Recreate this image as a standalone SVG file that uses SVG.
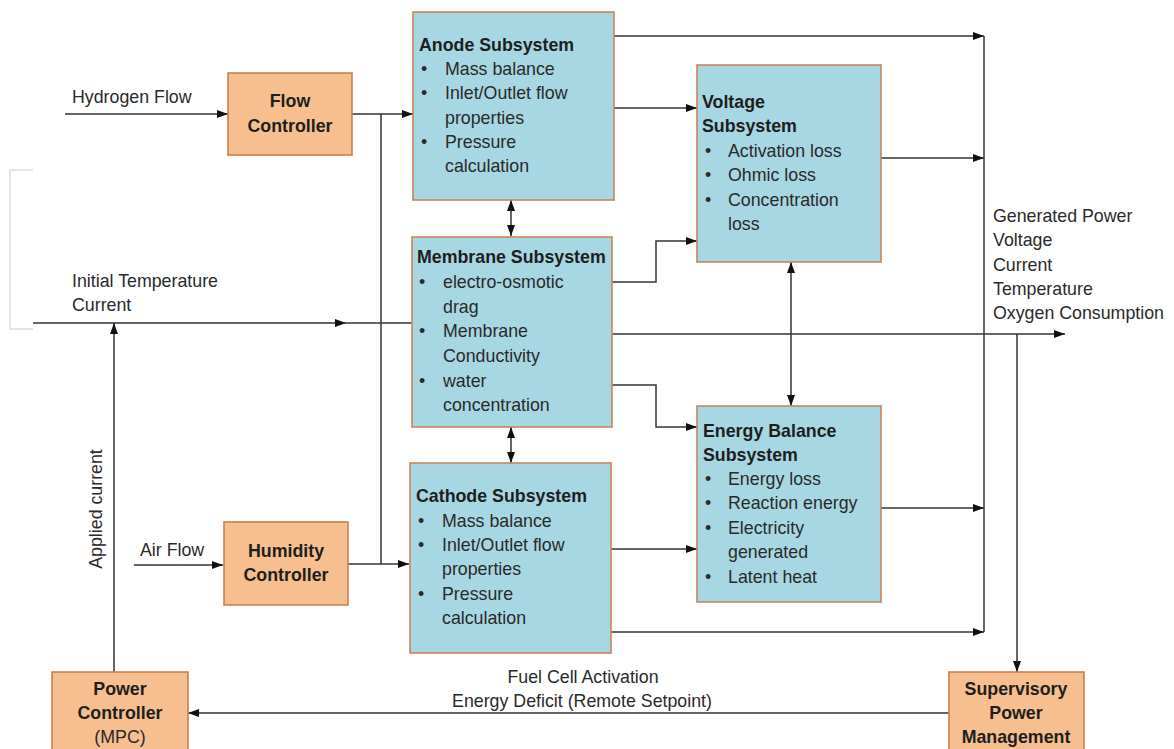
<svg xmlns="http://www.w3.org/2000/svg" width="1174" height="749" viewBox="0 0 1174 749">
<style>
.bb{fill:#a7d7e3;stroke:#c8855a;stroke-width:1.6}
.ob{fill:#f7be8f;stroke:#c8804f;stroke-width:1.6}
text{font-family:"Liberation Sans",Arial,sans-serif;font-size:17.8px;fill:#2a2a2a}
.t{font-weight:bold;fill:#1e1e1e}
.c{text-anchor:middle}
.ln{fill:none;stroke:#333;stroke-width:1.5}
</style>
<defs>
<marker id="ah" viewBox="0 0 11 8" refX="11" refY="4" markerWidth="11" markerHeight="8" markerUnits="userSpaceOnUse" orient="auto-start-reverse"><path d="M0,0 L11,4 L0,8 z" fill="#111"/></marker>
</defs>
<rect width="1174" height="749" fill="#fff"/>
<polyline points="33,170 10,170 10,329 33,329" fill="none" stroke="#dedede" stroke-width="1.5"/>
<g id="connectors">
<line class="ln" x1="65" y1="114" x2="228" y2="114" marker-end="url(#ah)"/>
<line class="ln" x1="352" y1="114" x2="413" y2="114" marker-end="url(#ah)"/>
<line class="ln" x1="381" y1="114" x2="381" y2="564"/>
<line class="ln" x1="348" y1="564" x2="409" y2="564" marker-end="url(#ah)"/>
<line class="ln" x1="134" y1="565" x2="223" y2="565" marker-end="url(#ah)"/>
<line class="ln" x1="33" y1="323" x2="346" y2="323" marker-end="url(#ah)"/>
<line class="ln" x1="346" y1="323" x2="412" y2="323"/>
<line class="ln" x1="114" y1="672" x2="114" y2="323" marker-end="url(#ah)"/>
<line class="ln" x1="511" y1="200" x2="511" y2="236" marker-start="url(#ah)" marker-end="url(#ah)"/>
<line class="ln" x1="511" y1="427" x2="511" y2="463" marker-start="url(#ah)" marker-end="url(#ah)"/>
<line class="ln" x1="614" y1="108" x2="697" y2="108" marker-end="url(#ah)"/>
<line class="ln" x1="614" y1="36" x2="984" y2="36" marker-end="url(#ah)"/>
<line class="ln" x1="881" y1="158" x2="984" y2="158" marker-end="url(#ah)"/>
<polyline class="ln" points="612,282 656,282 656,241 697,241" marker-end="url(#ah)"/>
<polyline class="ln" points="612,385 656,385 656,427 697,427" marker-end="url(#ah)"/>
<line class="ln" x1="612" y1="334" x2="1065" y2="334" marker-end="url(#ah)"/>
<line class="ln" x1="791" y1="262" x2="791" y2="406" marker-start="url(#ah)" marker-end="url(#ah)"/>
<line class="ln" x1="611" y1="549" x2="697" y2="549" marker-end="url(#ah)"/>
<line class="ln" x1="881" y1="508" x2="984" y2="508" marker-end="url(#ah)"/>
<line class="ln" x1="611" y1="632" x2="984" y2="632" marker-end="url(#ah)"/>
<line class="ln" x1="984" y1="36" x2="984" y2="632"/>
<line class="ln" x1="1017" y1="334" x2="1017" y2="672" marker-end="url(#ah)"/>
<line class="ln" x1="949" y1="713" x2="188" y2="713" marker-end="url(#ah)"/>
</g>
<g id="labels">
<text x="72" y="103">Hydrogen Flow</text>
<text x="72" y="287">Initial Temperature</text>
<text x="72" y="311">Current</text>
<text x="140" y="556">Air Flow</text>
<text class="c" transform="translate(102,509) rotate(-90)">Applied current</text>
<text x="993" y="222">Generated Power</text>
<text x="993" y="246">Voltage</text>
<text x="993" y="271">Current</text>
<text x="993" y="295">Temperature</text>
<text x="993" y="319">Oxygen Consumption</text>
<text class="c" x="583" y="683">Fuel Cell Activation</text>
<text class="c" x="582" y="707">Energy Deficit (Remote Setpoint)</text>
</g>
<g id="flow-controller">
<rect class="ob" x="228" y="73" width="124" height="82"/>
<text class="t c" x="290" y="107">Flow</text>
<text class="t c" x="290" y="132">Controller</text>
</g>
<g id="humidity-controller">
<rect class="ob" x="224" y="522" width="124" height="83"/>
<text class="t c" x="286" y="557">Humidity</text>
<text class="t c" x="286" y="581">Controller</text>
</g>
<g id="power-controller">
<rect class="ob" x="52" y="672" width="136" height="90"/>
<text class="t c" x="120" y="695">Power</text>
<text class="t c" x="120" y="719">Controller</text>
<text class="c" x="120" y="743">(MPC)</text>
</g>
<g id="supervisory">
<rect class="ob" x="949" y="672" width="135" height="90"/>
<text class="t c" x="1016" y="695">Supervisory</text>
<text class="t c" x="1016" y="719">Power</text>
<text class="t c" x="1016" y="743">Management</text>
</g>
<g id="anode">
<rect class="bb" x="413" y="12" width="201" height="188"/>
<text class="t" x="419" y="51">Anode Subsystem</text>
<text x="421" y="75">•</text><text x="445" y="75">Mass balance</text>
<text x="421" y="99">•</text><text x="445" y="99">Inlet/Outlet flow</text>
<text x="445" y="124">properties</text>
<text x="421" y="148">•</text><text x="445" y="148">Pressure</text>
<text x="445" y="172">calculation</text>
</g>
<g id="membrane">
<rect class="bb" x="412" y="237" width="200" height="190"/>
<text class="t" x="417" y="263">Membrane Subsystem</text>
<text x="419" y="288">•</text><text x="443" y="288">electro-osmotic</text>
<text x="443" y="313">drag</text>
<text x="419" y="337">•</text><text x="443" y="337">Membrane</text>
<text x="443" y="362">Conductivity</text>
<text x="419" y="387">•</text><text x="443" y="387">water</text>
<text x="443" y="411">concentration</text>
</g>
<g id="cathode">
<rect class="bb" x="410" y="463" width="201" height="190"/>
<text class="t" x="416" y="502">Cathode Subsystem</text>
<text x="418" y="527">•</text><text x="442" y="527">Mass balance</text>
<text x="418" y="551">•</text><text x="442" y="551">Inlet/Outlet flow</text>
<text x="442" y="575">properties</text>
<text x="418" y="600">•</text><text x="442" y="600">Pressure</text>
<text x="442" y="624">calculation</text>
</g>
<g id="voltage">
<rect class="bb" x="697" y="65" width="184" height="197"/>
<text class="t" x="702" y="108">Voltage</text>
<text class="t" x="702" y="132">Subsystem</text>
<text x="705" y="157">•</text><text x="728" y="157">Activation loss</text>
<text x="705" y="181">•</text><text x="728" y="181">Ohmic loss</text>
<text x="705" y="206">•</text><text x="728" y="206">Concentration</text>
<text x="728" y="230">loss</text>
</g>
<g id="energy">
<rect class="bb" x="697" y="406" width="184" height="196"/>
<text class="t" x="703" y="437">Energy Balance</text>
<text class="t" x="703" y="461">Subsystem</text>
<text x="705" y="485">•</text><text x="728" y="485">Energy loss</text>
<text x="705" y="509">•</text><text x="728" y="509">Reaction energy</text>
<text x="705" y="534">•</text><text x="728" y="534">Electricity</text>
<text x="728" y="558">generated</text>
<text x="705" y="583">•</text><text x="728" y="583">Latent heat</text>
</g>
</svg>
